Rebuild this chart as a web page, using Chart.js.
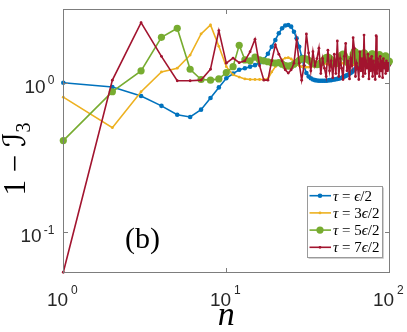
<!DOCTYPE html>
<html><head><meta charset="utf-8">
<script src="https://cdn.jsdelivr.net/npm/chart.js@4.4.1/dist/chart.umd.min.js"></script>
<style>html,body{margin:0;padding:0;background:#fff;overflow:hidden}canvas{display:block}</style>
</head><body>
<canvas id="c" width="407" height="332"></canvas>
<script>
const nValues = [1,2,3,4,5,6,7,8,9,10,11,12,13,14,15,16,17,18,19,20,21,22,23,24,25,26,27,28,29,30,31,32,33,34,35,36,37,38,39,40,41,42,43,44,45,46,47,48,49,50,51,52,53,54,55,56,57,58,59,60,61,62,63,64,65,66,67,68,69,70,71,72,73,74,75,76,77,78,79,80,81,82,83,84,85,86,87,88,89,90,91,92,93,94,95,96,97,98,99,100];

const tauHalf = [
1.00,0.935,0.815,0.70,0.61,0.59,0.66,0.79,0.93,1.07,
1.15,1.22,1.25,1.28,1.31,1.36,1.43,1.56,1.74,1.93,
2.14,2.31,2.41,2.43,2.37,2.19,1.98,1.74,1.49,1.28,
1.16,1.10,1.07,1.05,1.04,1.035,1.03,1.03,1.03,1.03,
1.03,1.035,1.04,1.04,1.045,1.05,1.055,1.06,1.065,1.07,
1.08,1.09,1.10,1.11,1.12,1.13,1.15,1.16,1.18,1.20,
1.22,1.24,1.26,1.28,1.30,1.32,1.34,1.36,1.38,1.40,
1.41,1.42,1.42,1.42,1.41,1.40,1.39,1.38,1.37,1.36,
1.35,1.34,1.33,1.33,1.32,1.32,1.32,1.32,1.33,1.33,
1.34,1.34,1.35,1.35,1.35,1.35,1.35,1.34,1.34,1.34];

const tau3Half = [
0.80,0.50,0.87,1.18,1.25,1.53,2.12,2.43,1.75,1.28,
1.13,1.09,1.06,1.05,1.05,1.05,1.05,1.06,1.18,1.28,
1.36,1.42,1.46,1.47,1.44,1.39,1.34,1.30,1.28,1.27,
1.27,1.27,1.28,1.29,1.31,1.32,1.33,1.34,1.35,1.35,
1.34,1.33,1.32,1.31,1.30,1.30,1.31,1.32,1.33,1.34,
1.35,1.35,1.34,1.33,1.32,1.31,1.30,1.30,1.31,1.32,
1.33,1.34,1.35,1.35,1.34,1.33,1.32,1.31,1.30,1.30,
1.31,1.32,1.33,1.34,1.35,1.35,1.34,1.33,1.32,1.31,
1.30,1.30,1.31,1.32,1.33,1.34,1.35,1.35,1.34,1.33,
1.32,1.31,1.30,1.30,1.31,1.32,1.33,1.34,1.34,1.33];

const tau5Half = [
0.41,0.87,1.20,2.01,2.31,1.23,1.05,1.04,1.06,1.17,
1.28,1.78,1.42,1.40,1.48,1.42,1.40,1.38,1.36,1.35,
1.36,1.33,1.30,1.29,1.30,1.33,1.37,1.41,1.44,1.45,
1.44,1.41,1.38,1.35,1.33,1.32,1.33,1.36,1.40,1.44,
1.47,1.48,1.46,1.42,1.38,1.35,1.34,1.37,1.42,1.48,
1.53,1.55,1.52,1.46,1.40,1.36,1.35,1.38,1.45,1.55,
1.62,1.60,1.52,1.44,1.38,1.36,1.39,1.46,1.54,1.58,
1.55,1.48,1.41,1.37,1.37,1.42,1.49,1.55,1.56,1.51,
1.44,1.39,1.37,1.40,1.46,1.52,1.54,1.50,1.44,1.39,
1.37,1.40,1.45,1.50,1.51,1.47,1.42,1.38,1.37,1.39];

const tau7Half = [
0.054,1.04,2.52,1.50,1.03,1.03,1.04,1.23,2.23,1.35,
1.46,1.36,1.40,1.61,1.95,1.30,1.04,1.04,1.40,1.79,
1.55,1.40,1.22,1.16,1.22,1.35,1.93,1.35,1.04,1.30,
2.12,1.58,1.20,1.61,1.30,1.45,1.70,1.15,1.45,1.25,
1.10,1.65,1.20,1.40,1.08,1.55,1.15,1.90,1.10,1.45,
1.25,1.05,1.50,1.83,1.20,1.40,1.06,1.45,1.30,2.00,
1.70,1.10,1.35,1.25,1.05,1.61,1.20,1.45,1.10,2.08,
1.15,1.40,1.25,1.55,1.06,1.45,1.20,1.50,1.10,1.40,
1.25,1.05,2.06,1.15,1.45,1.30,1.10,1.50,1.20,1.40,
1.08,1.45,1.25,1.35,1.15,1.40,1.20,1.35,1.25,1.30];

const seriesLabels = ['τ = ϵ/2', 'τ = 3ϵ/2', 'τ = 5ϵ/2', 'τ = 7ϵ/2'];
const xTickValues = [1, 10, 100];
const xTickExponents = ['0', '1', '2'];
const yTickValues = [0.1, 1];
const yTickExponents = ['-1', '0'];
const xTitle = 'n';
const panelLabel = '(b)';

const colors = ['#0072BD', '#EDB120', '#77AC30', '#A2142F'];
const radii = [2.3, 1.4, 3.6, 1.4];
const values = [tauHalf, tau3Half, tau5Half, tau7Half];

const datasets = values.map((arr, i) => ({
  label: seriesLabels[i],
  data: nValues.map((n, k) => ({x: n, y: arr[k]})),
  borderColor: colors[i],
  backgroundColor: colors[i],
  pointBackgroundColor: colors[i],
  pointBorderWidth: 0,
  pointRadius: radii[i],
  pointHoverRadius: radii[i],
  borderWidth: 1.6,
  tension: 0,
  fill: false,
  clip: false,
  order: 3 - i
}));

function drawRich(ctx, parts, x, y, size) {
  let cx = x;
  for (const [t, italic] of parts) {
    ctx.font = (italic ? 'italic ' : '') + size + 'px "Liberation Serif", "DejaVu Serif", serif';
    ctx.fillText(t, cx, y);
    cx += ctx.measureText(t).width;
  }
}
function splitLabel(s) {
  const parts = [];
  for (const ch of s) {
    const it = /[τϵ]/.test(ch);
    if (parts.length && parts[parts.length - 1][1] === it) parts[parts.length - 1][0] += ch;
    else parts.push([ch, it]);
  }
  return parts;
}

const deco = {
  id: 'deco',
  afterDatasetsDraw(chart) {
    const {ctx, chartArea: a, scales: {x, y}} = chart;
    ctx.save();
    const L = Math.round(a.left) + 0.5, R = Math.round(a.right) + 0.5;
    const T = Math.round(a.top) + 0.5, B = Math.round(a.bottom) - 0.5;
    ctx.strokeStyle = '#7d7d7d';
    ctx.lineWidth = 1;
    ctx.strokeRect(L, T, R - L, B - T);
    ctx.beginPath();
    xTickValues.forEach(v => {
      const px = Math.round(x.getPixelForValue(v)) + 0.5;
      ctx.moveTo(px, B); ctx.lineTo(px, B - 4.5);
      ctx.moveTo(px, T); ctx.lineTo(px, T + 4.5);
    });
    yTickValues.forEach(v => {
      const py = Math.round(y.getPixelForValue(v)) + 0.5;
      ctx.moveTo(L, py); ctx.lineTo(L + 4.5, py);
      ctx.moveTo(R, py); ctx.lineTo(R - 4.5, py);
    });
    ctx.stroke();
    ctx.fillStyle = '#262626';
    ctx.textBaseline = 'alphabetic';
    ctx.textAlign = 'left';
    const baseFont = '19px "Liberation Sans", Arial, sans-serif';
    const supFont = '12px "Liberation Sans", Arial, sans-serif';
    xTickValues.forEach((v, i) => {
      const px = x.getPixelForValue(v);
      ctx.font = baseFont; const wb = ctx.measureText('10').width;
      ctx.font = supFont; const ws = ctx.measureText(xTickExponents[i]).width;
      const total = wb + 3 + ws;
      const x0 = px - total / 2 - 1;
      ctx.font = baseFont; ctx.fillText('10', x0, a.bottom + 33);
      ctx.font = supFont; ctx.fillText(xTickExponents[i], x0 + wb + 3, a.bottom + 21.5);
    });
    yTickValues.forEach((v, i) => {
      const py = y.getPixelForValue(v);
      ctx.font = supFont; const ws = ctx.measureText(yTickExponents[i]).width;
      ctx.font = baseFont; const wb = ctx.measureText('10').width;
      const xr = a.left - 9;
      ctx.font = supFont; ctx.fillText(yTickExponents[i], xr - ws, py + 1.5);
      ctx.font = baseFont; ctx.fillText('10', xr - ws - 2 - wb, py + 10);
    });
    ctx.fillStyle = '#000';
    ctx.font = 'italic 34px "Liberation Serif", serif';
    ctx.textAlign = 'center';
    ctx.fillText(xTitle, (a.left + a.right) / 2, 325);
    ctx.font = '30px "Liberation Serif", serif';
    ctx.fillText(panelLabel, 142.5, 248);
    // y title: 1 − ℐ_3
    ctx.save();
    ctx.translate(25, 159);
    ctx.rotate(-Math.PI / 2);
    ctx.textAlign = 'left';
    const f1 = '31px "Liberation Serif", "DejaVu Serif", serif';
    const f2 = 'italic 31px "DejaVu Sans", "DejaVu Serif", serif';
    const f3 = '20px "Liberation Serif", serif';
    ctx.font = f1; const w1 = ctx.measureText('1 − ').width;
    ctx.font = f2; const w2 = ctx.measureText('ℐ').width;
    ctx.font = f3; const w3 = ctx.measureText('3').width;
    let sx = -(w1 + w2 + w3) / 2;
    ctx.font = f1; ctx.fillText('1 − ', sx, 0); sx += w1;
    ctx.font = f2; ctx.fillText('ℐ', sx, 0); sx += w2;
    ctx.font = f3; ctx.fillText('3', sx, 5);
    ctx.restore();
    // legend
    const lx = 307.5, ly = 186.5, lw = 75, lh = 71;
    ctx.fillStyle = '#fff';
    ctx.fillRect(lx, ly, lw, lh);
    ctx.strokeStyle = '#d0d0d0';
    ctx.beginPath();
    ctx.moveTo(lx + lw + 1, ly + 1); ctx.lineTo(lx + lw + 1, ly + lh + 1); ctx.lineTo(lx + 1, ly + lh + 1);
    ctx.stroke();
    ctx.strokeStyle = '#9a9a9a';
    ctx.strokeRect(lx, ly, lw, lh);
    ctx.textAlign = 'left';
    seriesLabels.forEach((lab, i) => {
      const ry = 195.7 + i * 17.2;
      ctx.strokeStyle = colors[i];
      ctx.lineWidth = 1.6;
      ctx.beginPath(); ctx.moveTo(309.5, ry); ctx.lineTo(331, ry); ctx.stroke();
      ctx.fillStyle = colors[i];
      ctx.beginPath(); ctx.arc(320, ry, radii[i], 0, Math.PI * 2); ctx.fill();
      ctx.fillStyle = '#000';
      drawRich(ctx, splitLabel(lab), 333, ry + 5, 15);
    });
    ctx.restore();
  }
};

new Chart(document.getElementById('c'), {
  type: 'line',
  data: { datasets },
  options: {
    responsive: false,
    animation: false,
    devicePixelRatio: 1,
    layout: { padding: { left: 63.3, right: 17.7, top: 9.3, bottom: 59.5 } },
    scales: {
      x: { type: 'logarithmic', min: 1, max: 100, display: false },
      y: { type: 'logarithmic', min: 0.0538, max: 3.095, display: false }
    },
    plugins: { legend: { display: false }, tooltip: { enabled: false } }
  },
  plugins: [deco]
});
</script>
</body></html>
